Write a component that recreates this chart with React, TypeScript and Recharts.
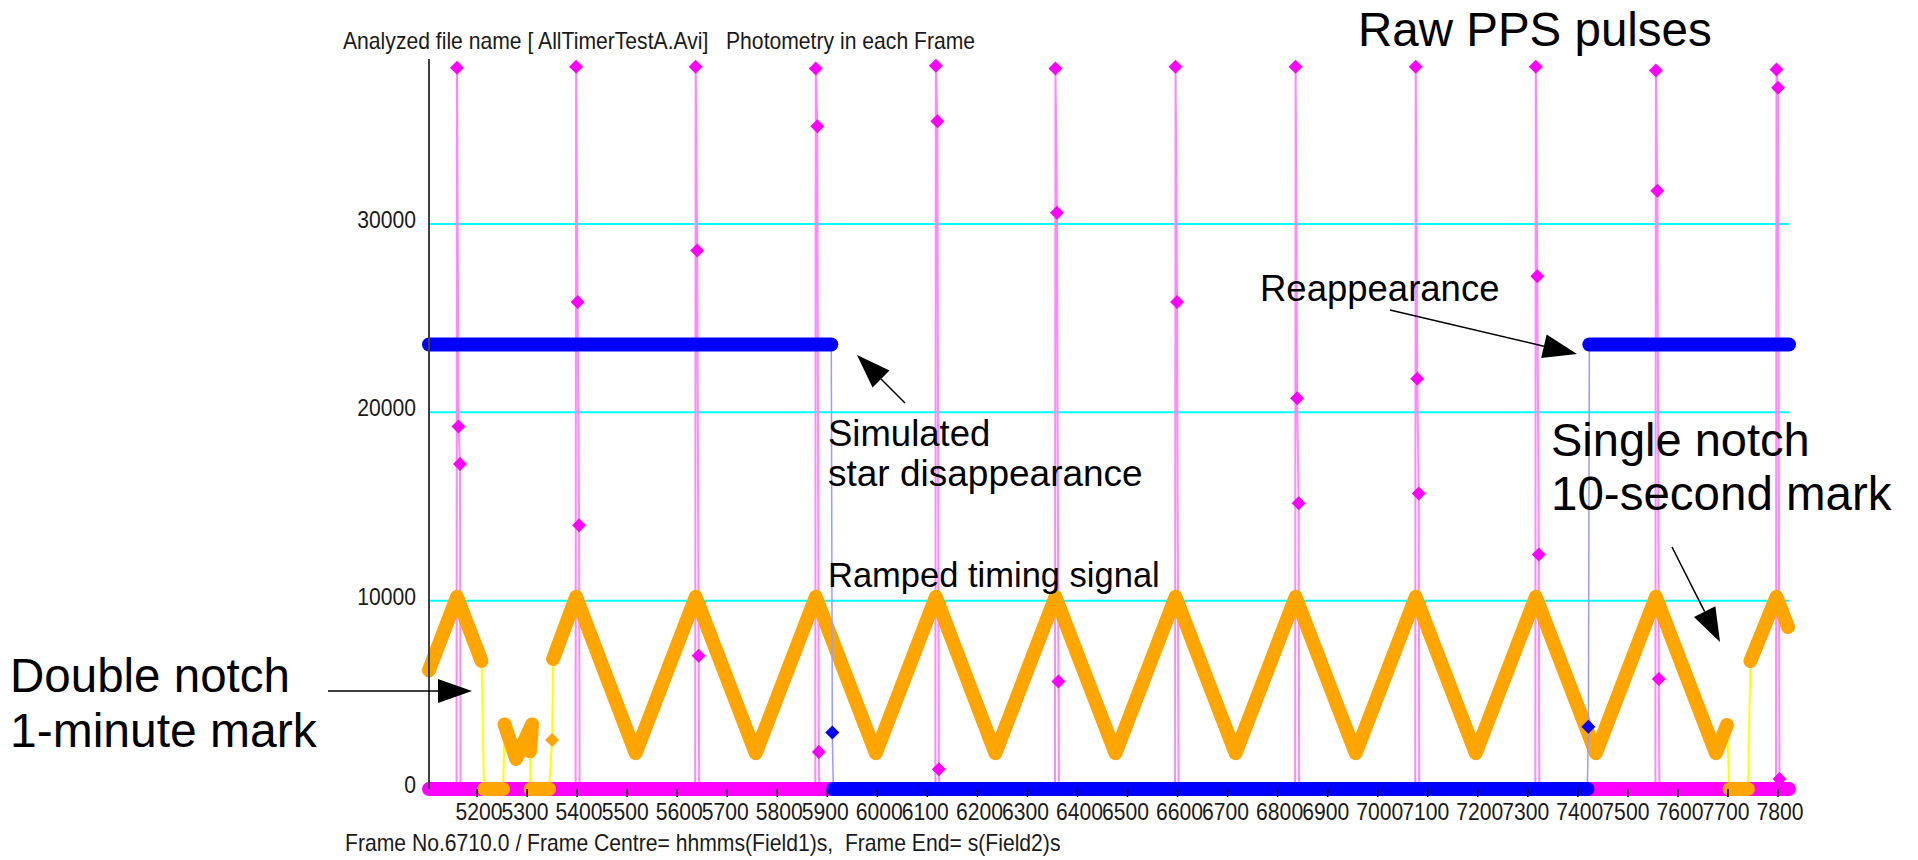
import React from 'react'
import { LineChart, Line, XAxis, YAxis, ReferenceLine } from 'recharts'

// frame range shown on the x axis
const FRAME_RANGE = [5104, 7822]
const X_TICKS = [
  5200, 5300, 5400, 5500, 5600, 5700, 5800, 5900, 6000, 6100, 6200, 6300, 6400, 6500,
  6600, 6700, 6800, 6900, 7000, 7100, 7200, 7300, 7400, 7500, 7600, 7700, 7800,
]
const Y_TICKS = [0, 10000, 20000, 30000]
const GRID_VALUES = [10000, 20000, 30000]
const Y_MAX = 38760

// raw PPS pulses: frame of the pulse, peak, and the two trailing samples
const PPS_FRAMES = [5160, 5398, 5637, 5877, 6117, 6356, 6596, 6836, 7076, 7316, 7556, 7797]
const PPS_PEAK = [38300, 38350, 38350, 38250, 38400, 38250, 38350, 38350, 38350, 38350, 38150, 38200]
const PPS_HI = [19250, 25860, 28590, 35190, 35450, 30590, 25860, 20750, 21780, 27220, 31760, 37240]
const PPS_LO = [17250, 14010, 7080, 1960, 1050, 5710, 0, 15170, 15690, 12450, 5840, 530]

// star photometry, split where the signal jumps
const STAR_SEGMENTS: number[][][] = [
  [[5104, 23600], [5908, 23600]],
  [[5910, 3000]],
  [[5912, 0], [7419, 0]],
  [[7421, 3300]],
  [[7423, 23600], [7822, 23600]],
]

// ramped timing signal, vertices of the triangle wave plus the notches
const RAMP_SEGMENTS: number[][][] = [
  [[5104, 6300], [5160, 10200], [5209, 6800]],
  [[5214, 0], [5252, 0]],
  [[5255, 3430], [5278, 1600], [5310, 3430], [5306, 2000]],
  [[5307, 0], [5344, 0]],
  [[5350, 2600]],
  [
    [5352, 6900], [5398, 10200], [5517, 1900], [5637, 10200], [5757, 1900], [5877, 10200],
    [5997, 1900], [6117, 10200], [6236, 1900], [6356, 10200], [6476, 1900], [6596, 10200],
    [6716, 1900], [6836, 10200], [6956, 1900], [7076, 10200], [7196, 1900], [7316, 10200],
    [7436, 1900], [7556, 10200], [7676, 1900], [7698, 3400],
  ],
  [[7703, 0], [7740, 0]],
  [[7745, 6800], [7797, 10200], [7820, 8600]],
]

const FONT = '"Liberation Sans", Arial, sans-serif'
const MAGENTA = '#ff00ff'
const PINK = '#ff88ff'
const BLUE = '#0000ff'
const LIGHT_BLUE = '#9a9aff'
const ORANGE = '#ffa500'
const YELLOW = '#ffff00'
const SMALL = 23 // small window font, drawn a bit condensed
const SQUEEZE = 0.92

type Pt = { x: number; y: number }
const toPts = (seg: number[][]): Pt[] => seg.map(([x, y]) => ({ x, y }))

const ppsPoints: Pt[] = [{ x: FRAME_RANGE[0], y: 0 }]
PPS_FRAMES.forEach((f, i) => {
  ppsPoints.push(
    { x: f - 1, y: 0 },
    { x: f, y: PPS_PEAK[i] },
    { x: f + 3, y: PPS_HI[i] },
    { x: f + 6, y: PPS_LO[i] },
    { x: f + 7, y: 0 },
  )
})
ppsPoints.push({ x: FRAME_RANGE[1], y: 0 })
const baseline = toPts([[FRAME_RANGE[0], 0], [FRAME_RANGE[1], 0]])

const diamond = (color: string, skipZero = false) => (props: any) => {
  const { cx, cy, index, payload } = props
  if (cx == null || cy == null || (skipZero && !payload.y)) return <g key={index} />
  const r = 7
  return (
    <path
      key={index}
      d={`M${cx},${cy - r}L${cx + r},${cy}L${cx},${cy + r}L${cx - r},${cy}Z`}
      fill={color}
    />
  )
}

// the old plot packs labels in pairs: nudge alternate labels together
function XTick({ x, y, payload, index }: any) {
  const nudge = index % 2 === 0 ? 2 : -2
  return (
    <text
      transform={`translate(${x + nudge},${y + 21}) scale(${SQUEEZE},1)`}
      textAnchor="middle"
      fontSize={SMALL}
      fontFamily={FONT}
      fill="#1a1a1a"
    >
      {payload.value}
    </text>
  )
}

function YTick({ x, y, payload }: any) {
  return (
    <text
      transform={`translate(${x},${y + 4}) scale(${SQUEEZE},1)`}
      textAnchor="end"
      fontSize={SMALL}
      fontFamily={FONT}
      fill="#1a1a1a"
    >
      {payload.value}
    </text>
  )
}

function Arrow({ x1, y1, x2, y2 }: { x1: number; y1: number; x2: number; y2: number }) {
  const len = Math.hypot(x2 - x1, y2 - y1)
  const ux = (x2 - x1) / len
  const uy = (y2 - y1) / len
  const hl = 34
  const hw = 12
  const bx = x2 - ux * hl
  const by = y2 - uy * hl
  const pts = `${x2},${y2} ${bx - uy * hw},${by + ux * hw} ${bx + uy * hw},${by - ux * hw}`
  return (
    <g>
      <line x1={x1} y1={y1} x2={bx} y2={by} stroke="#000" strokeWidth={1.5} />
      <polygon points={pts} fill="#000" />
    </g>
  )
}

export default function App() {
  const rampAll = RAMP_SEGMENTS.flatMap(toPts)
  const starAll = STAR_SEGMENTS.flatMap(toPts)

  return (
    <div style={{ position: 'absolute', left: 0, top: 0, width: 1918, height: 860, background: '#fff', fontFamily: FONT }}>
      <LineChart width={1918} height={860} margin={{ top: 59, right: 129, bottom: 31, left: 349 }}>
        <XAxis
          type="number"
          dataKey="x"
          domain={FRAME_RANGE}
          ticks={X_TICKS}
          interval={0}
          axisLine={false}
          tickLine={{ stroke: '#000', strokeWidth: 1.5 }}
          tickSize={8}
          tickMargin={2}
          height={40}
          tick={<XTick />}
        />
        <YAxis
          type="number"
          domain={[0, Y_MAX]}
          ticks={Y_TICKS}
          interval={0}
          width={80}
          axisLine={{ stroke: '#404040', strokeWidth: 2 }}
          tickLine={false}
          tickSize={0}
          tickMargin={13}
          tick={<YTick />}
        />
        {GRID_VALUES.map((v) => (
          <ReferenceLine key={v} y={v} stroke="#00ffff" strokeWidth={2} />
        ))}

        {/* thin pulse trace */}
        <Line data={ppsPoints} dataKey="y" stroke={PINK} strokeWidth={2} dot={false} activeDot={false} isAnimationActive={false} />
        <Line data={baseline} dataKey="y" stroke={MAGENTA} strokeWidth={14} strokeLinecap="round" dot={false} activeDot={false} isAnimationActive={false} />

        {/* ramp: thin connector then dense segments */}
        <Line data={rampAll} dataKey="y" stroke={YELLOW} strokeWidth={2} dot={false} activeDot={false} isAnimationActive={false} />
        {RAMP_SEGMENTS.map((seg, i) => (
          <Line
            key={'r' + i}
            data={toPts(seg)}
            dataKey="y"
            stroke={seg.length > 1 ? ORANGE : 'none'}
            strokeWidth={14}
            strokeLinejoin="round"
            strokeLinecap="round"
            dot={seg.length > 1 ? false : diamond(ORANGE)}
            activeDot={false}
            isAnimationActive={false}
          />
        ))}

        {/* star */}
        <Line data={starAll} dataKey="y" stroke={LIGHT_BLUE} strokeWidth={1.5} dot={false} activeDot={false} isAnimationActive={false} />
        {STAR_SEGMENTS.map((seg, i) => (
          <Line
            key={'s' + i}
            data={toPts(seg)}
            dataKey="y"
            stroke={seg.length > 1 ? BLUE : 'none'}
            strokeWidth={14}
            strokeLinejoin="round"
            strokeLinecap="round"
            dot={seg.length > 1 ? false : diamond(BLUE)}
            activeDot={false}
            isAnimationActive={false}
          />
        ))}

        {/* pulse sample markers */}
        <Line data={ppsPoints} dataKey="y" stroke="none" dot={diamond(MAGENTA, true)} activeDot={false} isAnimationActive={false} />
      </LineChart>

      <svg width={1918} height={860} style={{ position: 'absolute', left: 0, top: 0, pointerEvents: 'none' }} fontFamily={FONT}>
        <text transform={`translate(343,49) scale(${SQUEEZE},1)`} fontSize={SMALL} fill="#1a1a1a" style={{ whiteSpace: 'pre' }}>
          {'Analyzed file name [ AllTimerTestA.Avi]   Photometry in each Frame'}
        </text>
        <text transform={`translate(345,851) scale(${SQUEEZE},1)`} fontSize={SMALL} fill="#1a1a1a" style={{ whiteSpace: 'pre' }}>
          {'Frame No.6710.0 / Frame Centre= hhmms(Field1)s,  Frame End= s(Field2)s'}
        </text>

        <text x={1358} y={46} fontSize={47.5}>Raw PPS pulses</text>
        <text x={1260} y={301} fontSize={36.5}>Reappearance</text>
        <text x={828} y={446} fontSize={36.5}>Simulated</text>
        <text x={828} y={486} fontSize={37}>star disappearance</text>
        <text x={828} y={587} fontSize={34.5}>Ramped timing signal</text>
        <text x={1551} y={456} fontSize={47}>Single notch</text>
        <text x={1551} y={510} fontSize={47.5}>10-second mark</text>
        <text x={10} y={692} fontSize={47.5}>Double notch</text>
        <text x={10} y={747} fontSize={48}>1-minute mark</text>

        <Arrow x1={328} y1={691} x2={472} y2={691} />
        <Arrow x1={905} y1={403} x2={857} y2={355} />
        <Arrow x1={1390} y1={310} x2={1577} y2={354} />
        <Arrow x1={1672} y1={547} x2={1720} y2={642} />
      </svg>
    </div>
  )
}
